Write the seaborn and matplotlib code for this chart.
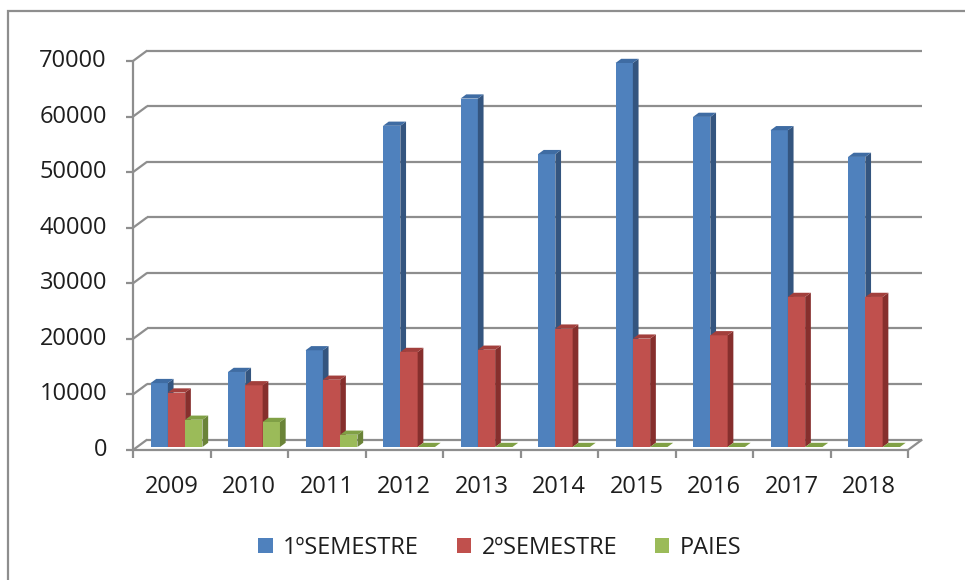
import numpy as np
import pandas as pd
import matplotlib
matplotlib.use("Agg")
import matplotlib.pyplot as plt
from matplotlib.patches import Polygon, Rectangle
import seaborn as sns

# ---------------- data ----------------
years = ['2009', '2010', '2011', '2012', '2013', '2014', '2015', '2016', '2017', '2018']
sem1 = [11500, 13500, 17400, 57800, 62700, 52700, 69100, 59400, 57000, 52200]
sem2 = [9800, 11100, 12100, 17100, 17500, 21300, 19500, 20100, 27000, 27000]
paies = [4900, 4500, 2200, 0, 0, 0, 0, 0, 0, 0]
series = ['1ºSEMESTRE', '2ºSEMESTRE', 'PAIES']
yticks = [0, 10000, 20000, 30000, 40000, 50000, 60000, 70000]

front_colors = ['#4F81BD', '#C0504D', '#9BBB59']
side_colors = ['#34557F', '#862F2D', '#6A8338']
top_colors = ['#3F6CA3', '#A23F3C', '#80A045']

df = pd.DataFrame({
    'Ano': years * 3,
    'Série': [s for s in series for _ in years],
    'Valor': sem1 + sem2 + paies,
})

# ---------------- figure ----------------
W, H = 965, 580
sns.set_theme(style='white')
plt.rcParams['font.family'] = ['Open Sans', 'DejaVu Sans']
fig = plt.figure(figsize=(W / 100, H / 100), dpi=100)
fig.patch.set_facecolor('white')

# axes = plane of the bars' front faces
x0_px, y0_px, w_px, h_px = 137.75, 447, 775, 389
ax = fig.add_axes([x0_px / W, (H - y0_px) / H, w_px / W, h_px / H])
ax.set_facecolor('none')

YMAX = 70000
px_x = w_px / 10.0          # pixels per category unit
px_y = h_px / YMAX          # pixels per value unit


def ux(p):
    return p / px_x


def uy(p):
    return p / px_y


sns.barplot(data=df, x='Ano', y='Valor', hue='Série', order=years, hue_order=series,
            palette=front_colors, saturation=1, width=0.67, gap=0, dodge=True,
            linewidth=0, legend=False, ax=ax, zorder=3)
ax.set_xlim(-0.5, 9.5)
ax.set_ylim(0, YMAX)
for s in ax.spines.values():
    s.set_visible(False)
ax.set_xticks([])
ax.set_yticks([])
ax.set_xlabel('')
ax.set_ylabel('')

# offsets (pixels) of the front frame and the back wall relative to bar plane
fx, fy = ux(-4.75), uy(-3)
bx, by = ux(9.5), uy(7.5)
# bar depth
dx, dy = ux(5.7), uy(4.2)

gcol = '#8E8E8E'
glw = 1.6
kw = dict(color=gcol, lw=glw, clip_on=False, zorder=1, solid_capstyle='butt')

# back wall gridlines + diagonals from the front axis
for v in yticks:
    ax.plot([-0.5 + bx, 9.5 + bx], [v + by, v + by], **kw)
    ax.plot([-0.5 + fx, -0.5 + bx], [v + fy, v + by], **kw)
    ax.plot([-0.5 + fx - ux(7), -0.5 + fx], [v + fy, v + fy], **kw)
# front y axis
ax.plot([-0.5 + fx, -0.5 + fx], [fy - uy(1), YMAX + fy], **kw)
# floor front edge and right diagonal
ax.plot([-0.5 + fx, 9.5 + fx], [fy, fy], **kw)
ax.plot([9.5 + fx, 9.5 + bx], [fy, by], **kw)
# x ticks
for k in range(11):
    ax.plot([k - 0.5 + fx, k - 0.5 + fx], [fy, fy - uy(8)], **kw)

# pseudo-3D faces for each bar, drawn left to right
bars = []
for cont, sc, tc in zip(ax.containers, side_colors, top_colors):
    for p in cont.patches:
        bars.append((p.get_x(), p, sc, tc))
bars.sort(key=lambda t: t[0])
for i, (xx, p, sc, tc) in enumerate(bars):
    z = 3 + i * 0.01
    p.set_zorder(z)
    w = p.get_width()
    h = p.get_height()
    side = Polygon([(xx + w, 0), (xx + w + dx, dy), (xx + w + dx, h + dy), (xx + w, h)],
                   closed=True, facecolor=sc, edgecolor='none', zorder=z + 0.001)
    top = Polygon([(xx, h), (xx + dx, h + dy), (xx + w + dx, h + dy), (xx + w, h)],
                  closed=True, facecolor=tc, edgecolor='none', zorder=z + 0.002)
    ax.add_patch(side)
    ax.add_patch(top)

# tick labels
tcol = '#1E1E1E'
fs = 17
for v in yticks:
    ax.text(-0.5 + fx - ux(26), v + fy, f'{v}', ha='right', va='center',
            fontsize=fs, color=tcol, clip_on=False)
for k, yr in enumerate(years):
    ax.text(k + fx, fy - uy(37), yr, ha='center', va='center',
            fontsize=fs, color=tcol, clip_on=False)

# legend
handles = [Rectangle((0, 0), 1, 1, facecolor=c, edgecolor='none') for c in front_colors]
fig.legend(handles, series, loc='center', bbox_to_anchor=(500 / W, 1 - 548 / H),
           ncol=3, frameon=False, fontsize=fs, handlelength=0.6, handleheight=0.6,
           handletextpad=0.45, columnspacing=1.6, labelcolor=tcol)

# outer chart border
fig.add_artist(Rectangle((8 / W, -0.1), 1.2, (H - 11) / H + 0.1, transform=fig.transFigure,
                         facecolor='none', edgecolor='#8E8E8E', lw=1.6))

fig.savefig('out.png', dpi=100)
